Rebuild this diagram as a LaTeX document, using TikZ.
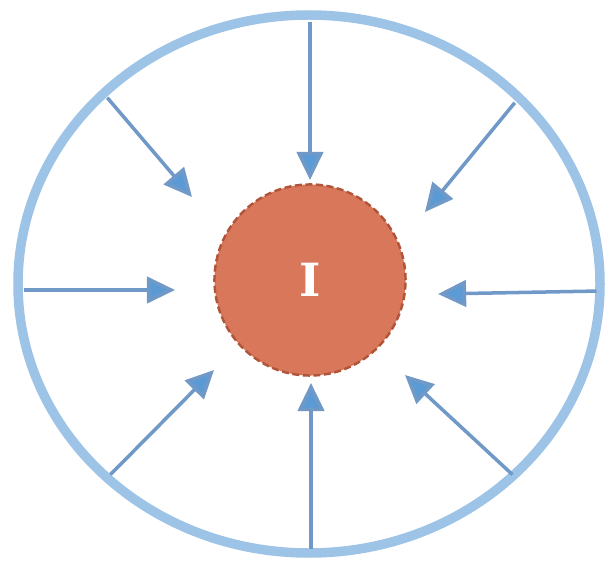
\documentclass[tikz,border=0pt]{standalone}
\usepackage{fontspec}
\usepackage{tikz}
\usetikzlibrary{arrows.meta}
\newfontfamily\corefont{DejaVu Serif}
\definecolor{ring-blue}{HTML}{9DC3E6}
\definecolor{arrow-blue}{HTML}{5B9BD5}
\definecolor{shaft-blue}{HTML}{7099C8}
\definecolor{core-fill}{HTML}{D9775A}
\definecolor{core-edge}{HTML}{B0553A}

\begin{document}
\begin{tikzpicture}[
    x=0.01cm, y=-0.01cm,
    ring/.style={draw=ring-blue, line width=2.7pt},
    core/.style={circle, fill=core-fill, draw=core-edge,
                 dash pattern=on 2pt off 1pt, line width=0.7pt,
                 minimum size=1.91cm, inner sep=0pt, text=white,
                 font=\corefont\fontsize{13}{13}\selectfont\bfseries},
    inflow/.style={-{Triangle[length=8pt, width=7.5pt, fill=arrow-blue]},
                   draw=shaft-blue, line width=1pt, shorten <=1pt}
]
\useasboundingbox (0,0) rectangle (609,567);

% =========================================================================
% ANEL EXTERNO E NUCLEO
% =========================================================================
\draw[ring] (309,284) ellipse [x radius=291, y radius=269];
\node[core] (nucleo) at (310,280) {I};

% =========================================================================
% PONTOS DE PARTIDA (NO ANEL) E DE CHEGADA
% =========================================================================
\coordinate (sN)  at (310,18);   \coordinate (eN)  at (310,180);
\coordinate (sNW) at (105,95);   \coordinate (eNW) at (192,197);
\coordinate (sNE) at (517,100);  \coordinate (eNE) at (425,212);
\coordinate (sW)  at (20,290);   \coordinate (eW)  at (175,290);
\coordinate (sE)  at (600,291);  \coordinate (eE)  at (438,294);
\coordinate (sSW) at (108,477);  \coordinate (eSW) at (214,370);
\coordinate (sS)  at (311,553);  \coordinate (eS)  at (311,383);
\coordinate (sSE) at (515,477);  \coordinate (eSE) at (405,375);

% =========================================================================
% SETAS CONVERGENTES
% =========================================================================
\foreach \d in {N,NW,NE,W,E,SW,S,SE}{
    \draw[inflow] (s\d) -- (e\d);
}

\end{tikzpicture}
\end{document}
